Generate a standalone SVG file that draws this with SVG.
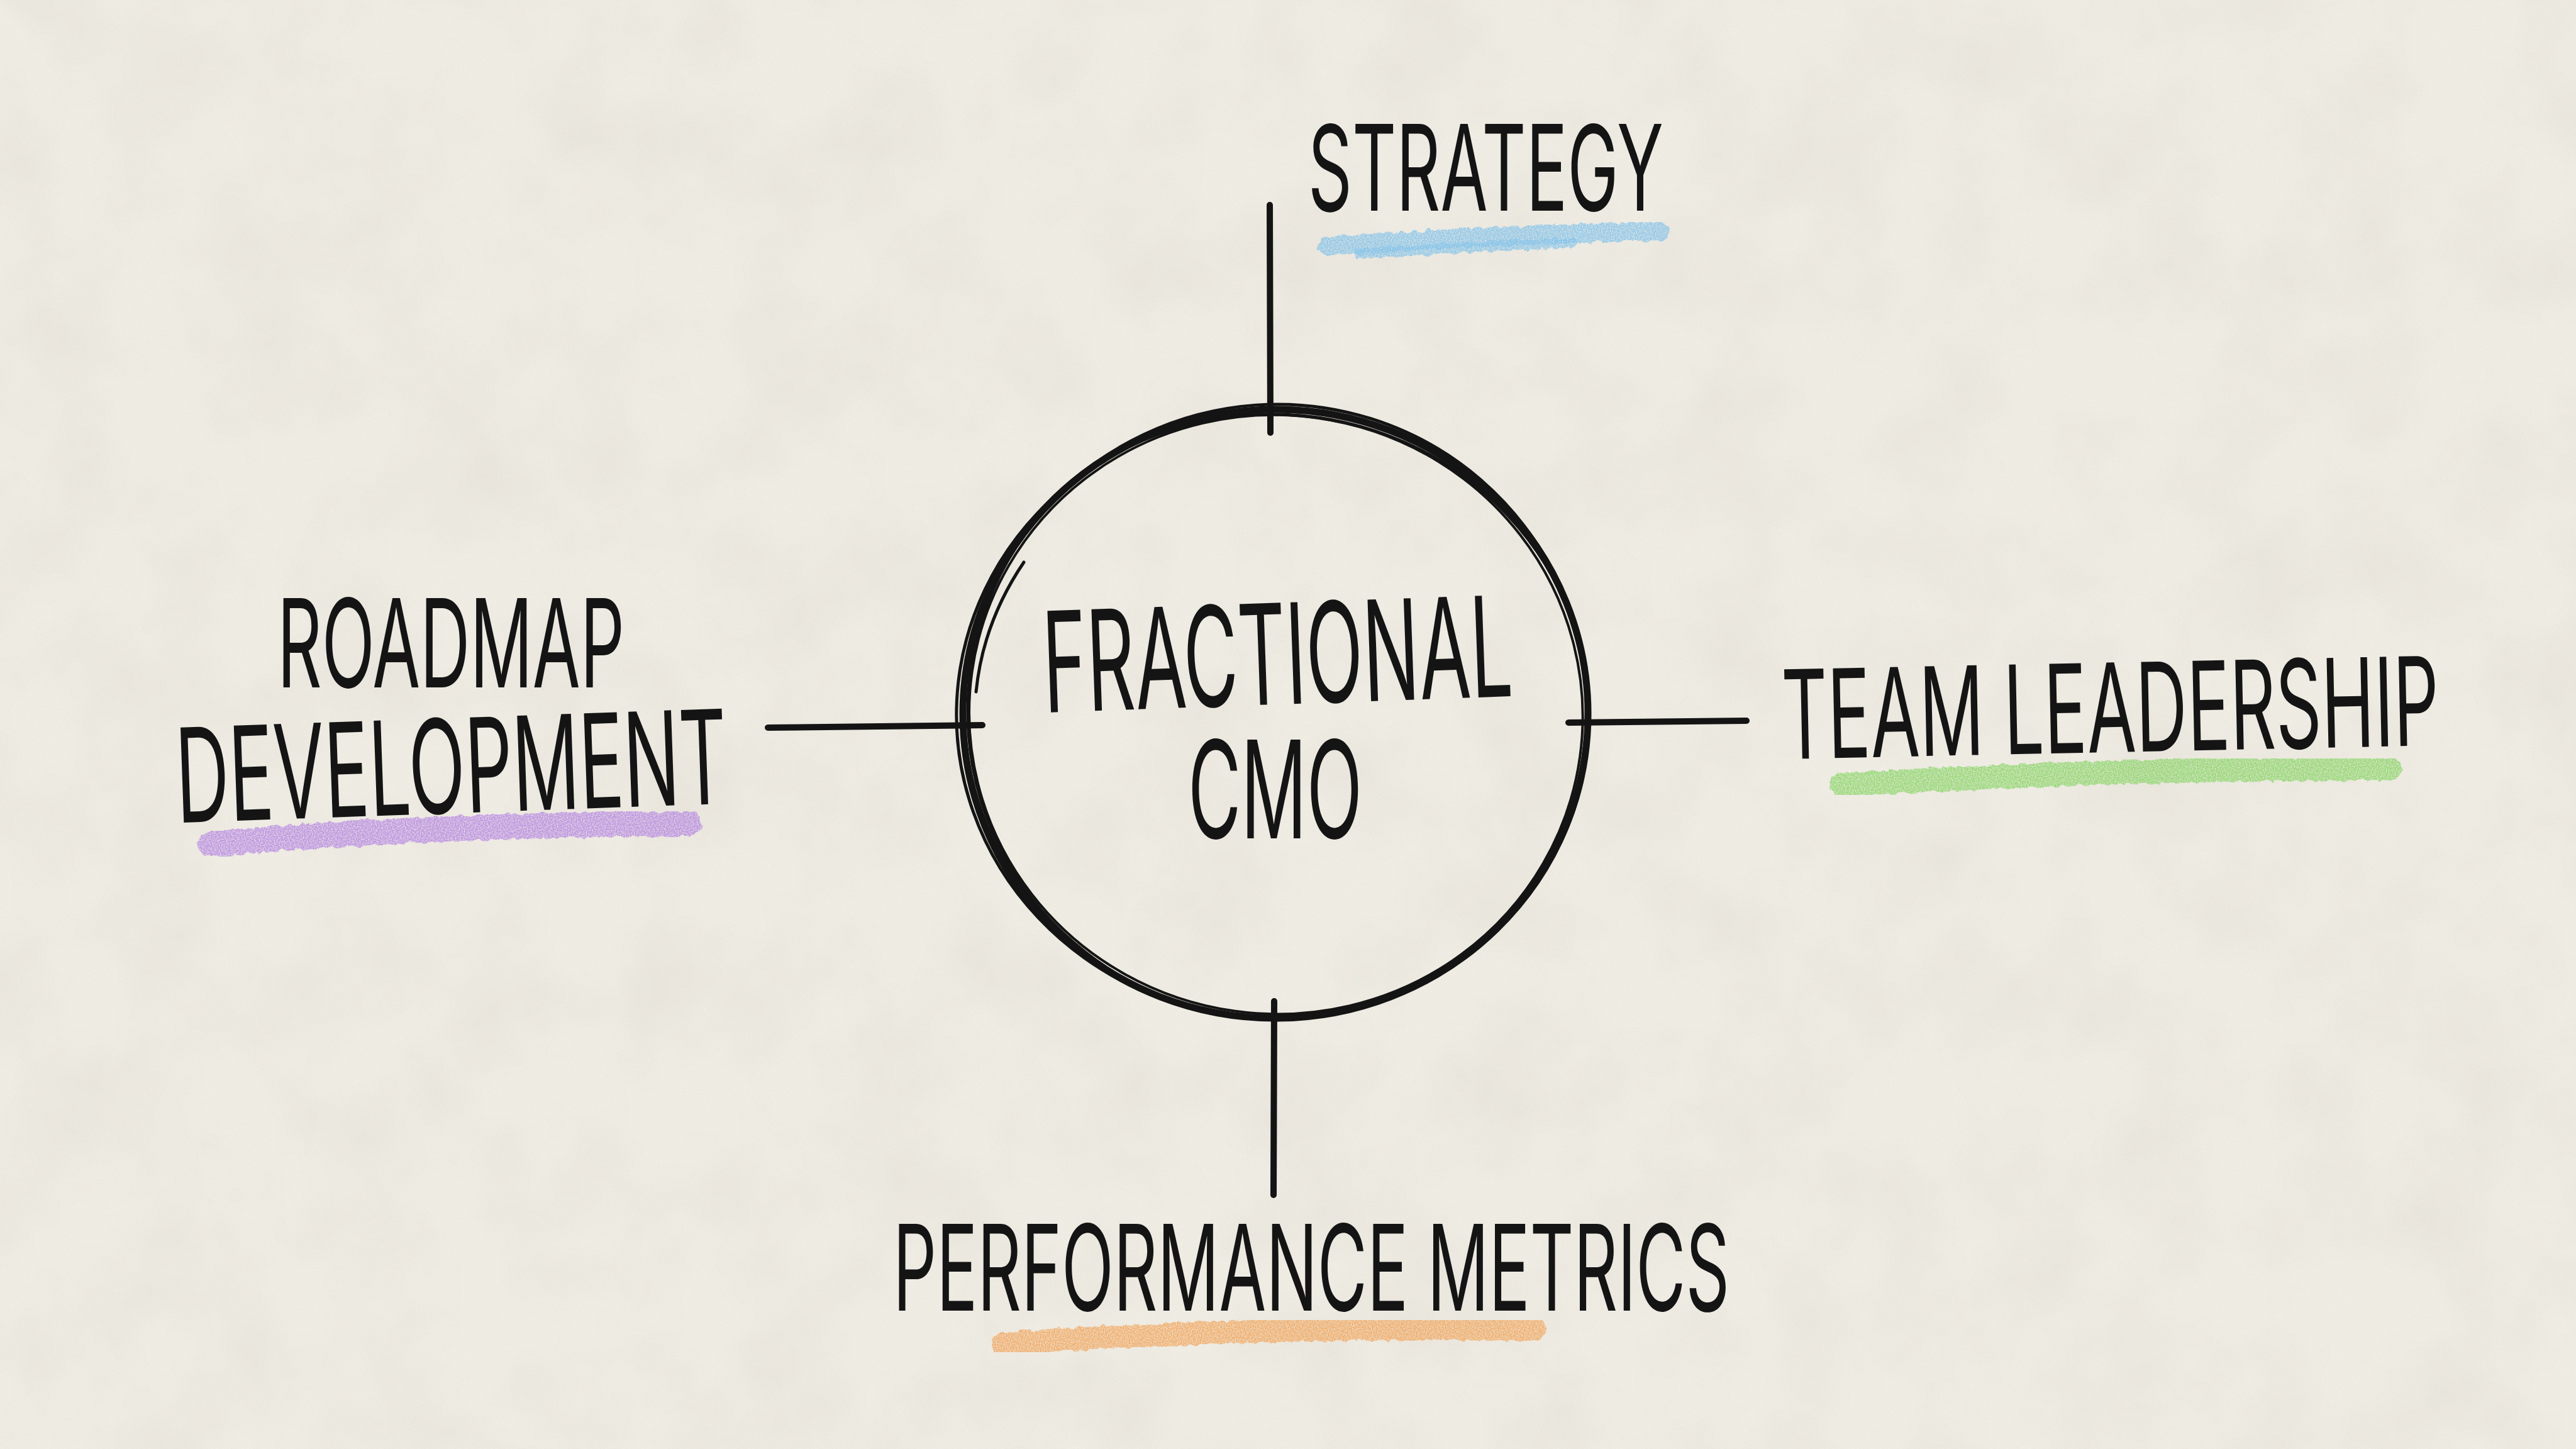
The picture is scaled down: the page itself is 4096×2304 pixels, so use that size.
<svg xmlns="http://www.w3.org/2000/svg" width="4096" height="2304" viewBox="0 0 4096 2304">
  <defs>
    <filter id="paper" x="0" y="0" width="100%" height="100%">
      <feTurbulence type="fractalNoise" baseFrequency="0.006" numOctaves="4" seed="7" result="n"/>
      <feColorMatrix in="n" type="matrix" values="0 0 0 0 0.55  0 0 0 0 0.5  0 0 0 0 0.42  0 0 0 0.26 -0.09"/>
    </filter>
    <filter id="grain" x="0" y="0" width="100%" height="100%">
      <feTurbulence type="fractalNoise" baseFrequency="0.6" numOctaves="1" seed="2" result="g"/>
      <feColorMatrix in="g" type="matrix" values="0 0 0 0 0.45  0 0 0 0 0.42  0 0 0 0 0.36  0 0 0 0.2 -0.06"/>
    </filter>
    <filter id="crayon" x="-5%" y="-60%" width="110%" height="220%">
      <feTurbulence type="fractalNoise" baseFrequency="0.09" numOctaves="2" seed="4" result="t"/>
      <feDisplacementMap in="SourceGraphic" in2="t" scale="10" xChannelSelector="R" yChannelSelector="G" result="d"/>
      <feTurbulence type="fractalNoise" baseFrequency="0.5" numOctaves="1" seed="9" result="s"/>
      <feColorMatrix in="s" type="matrix" values="0 0 0 0 0  0 0 0 0 0  0 0 0 0 0  0 0 0 -1.8 1.6" result="m"/>
      <feComposite in="d" in2="m" operator="in"/>
    </filter>
    <style>
      .hand { font-family: Inter, "Liberation Sans", Arial, sans-serif; font-weight: 400; fill: #141414; }
      .ink { fill: none; stroke: #141414; stroke-linecap: round; stroke-linejoin: round; }
      .hl { fill: none; stroke-linecap: round; filter: url(#crayon); opacity: 0.9; }
    </style>
  </defs>

  <rect x="0" y="0" width="4096" height="2304" fill="#f1eee6"/>
  <rect x="0" y="0" width="4096" height="2304" filter="url(#paper)"/>
  <rect x="0" y="0" width="4096" height="2304" filter="url(#grain)"/>

  <g id="connectors">
    <path class="ink" stroke-width="10" d="M2019,326 L2020,688"/>
    <path class="ink" stroke-width="10" d="M2026,1592 L2025,1900"/>
    <path class="ink" stroke-width="10" d="M1221,1157 L1562,1153"/>
    <path class="ink" stroke-width="10" d="M2494,1149 L2777,1146"/>
  </g>

  <g id="node-center">
    <ellipse class="ink" stroke-width="11" cx="2028" cy="1135" rx="497" ry="484"/>
    <ellipse class="ink" stroke-width="5" cx="2031" cy="1131" rx="492" ry="488" transform="rotate(-4 2030 1133)"/>
    <ellipse class="ink" stroke-width="5" cx="2024" cy="1139" rx="503" ry="480" transform="rotate(3 2028 1135)"/>
    <ellipse class="ink" stroke-width="4" cx="2029" cy="1136" rx="488" ry="476" transform="rotate(8 2028 1135)"/>
    <path class="ink" stroke-width="5" d="M1628,894 C1590,950 1560,1020 1552,1100"/>
    <text class="hand" x="1658" y="1120" font-size="222" textLength="747" lengthAdjust="spacingAndGlyphs" transform="rotate(-2 2030 1045)">FRACTIONAL</text>
    <text class="hand" x="1889" y="1333" font-size="216" textLength="277" lengthAdjust="spacingAndGlyphs">CMO</text>
  </g>

  <g id="node-strategy">
    <path class="hl" stroke="#86c4ea" stroke-width="30" d="M2112,392 Q2380,372 2640,368"/>
    <path class="hl" stroke="#86c4ea" stroke-width="16" d="M2160,403 Q2350,392 2500,386"/>
    <text class="hand" x="2080" y="335" font-size="189" textLength="565" lengthAdjust="spacingAndGlyphs">STRATEGY</text>
  </g>

  <g id="node-team">
    <path class="hl" stroke="#8cd66a" stroke-width="38" d="M2928,1248 Q3350,1222 3800,1222"/>
    <text class="hand" x="3878" y="1196" font-size="196" text-anchor="end" textLength="1045" lengthAdjust="spacingAndGlyphs" transform="rotate(-1.2 3357 1130)">TEAM LEADERSHIP</text>
  </g>

  <g id="node-roadmap">
    <path class="hl" stroke="#b88ae2" stroke-width="40" d="M335,1342 Q700,1310 1095,1310"/>
    <text class="hand" x="441" y="1093" font-size="195" textLength="552" lengthAdjust="spacingAndGlyphs">ROADMAP</text>
    <text class="hand" x="279" y="1293" font-size="208" textLength="877" lengthAdjust="spacingAndGlyphs" transform="rotate(-2 717 1215)">DEVELOPMENT</text>
  </g>

  <g id="node-performance">
    <path class="hl" stroke="#f2a75e" stroke-width="36" d="M1595,2136 Q2000,2108 2440,2114"/>
    <text class="hand" x="1420" y="2084" font-size="190" textLength="1330" lengthAdjust="spacingAndGlyphs">PERFORMANCE METRICS</text>
  </g>
</svg>
